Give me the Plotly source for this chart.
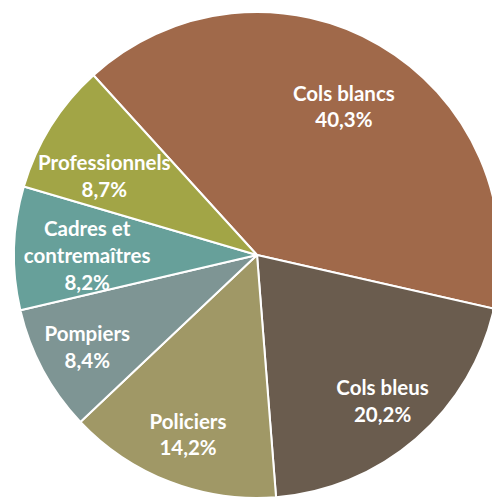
import plotly.graph_objects as go

categories = ["Cols blancs", "Cols bleus", "Policiers", "Pompiers", "Cadres et<br>contremaîtres", "Professionnels"]
values = [40.3, 20.2, 14.2, 8.4, 8.2, 8.7]
value_labels = ["40,3%", "20,2%", "14,2%", "8,4%", "8,2%", "8,7%"]
colors = ["#A0694A", "#6A5C4E", "#A09866", "#7E9594", "#67A09A", "#A2A546"]

# label layers (which slice's label is drawn on which transparent ring)
layer_mid = ["inside", "none", "none", "inside", "none", "none"]
layer_outer = ["none", "inside", "inside", "none", "none", "none"]
layer_inner = ["none", "none", "none", "none", "inside", "none"]
layer_inner_shifted = ["none", "none", "none", "none", "none", "inside"]

START = -42.3
common = dict(
    labels=categories,
    values=values,
    sort=False,
    direction="clockwise",
    hoverinfo="skip",
    showlegend=False,
)
label_style = dict(
    customdata=value_labels,
    texttemplate="%{label}<br>%{customdata}",
    insidetextorientation="horizontal",
    marker=dict(colors=["rgba(0,0,0,0)"] * len(values), line=dict(width=0)),
    textfont=dict(family="Lato", size=20.5, color="white", weight="bold"),
)
inner_domain = dict(x=[0.05, 0.95], y=[0.05, 0.95])

fig = go.Figure()
# the slices
fig.add_trace(go.Pie(
    **common,
    rotation=START,
    textinfo="none",
    marker=dict(colors=colors, line=dict(color="white", width=2)),
))
# transparent label layers
fig.add_trace(go.Pie(**common, **label_style, rotation=START, hole=0.42, textposition=layer_mid))
fig.add_trace(go.Pie(**common, **label_style, rotation=START, hole=0.58, textposition=layer_outer))
fig.add_trace(go.Pie(**common, **label_style, rotation=START, hole=0.3,
                     textposition=layer_inner, domain=inner_domain))
fig.add_trace(go.Pie(**common, **label_style, rotation=START - 4.5, hole=0.3,
                     textposition=layer_inner_shifted, domain=inner_domain))
fig.update_layout(
    width=500,
    height=499,
    margin=dict(l=14, r=0, t=12, b=1),
    paper_bgcolor="white",
    uniformtext=dict(minsize=20.5, mode="show"),
)
fig.write_html(
    "out.html",
    config={"displayModeBar": False},
    post_script="document.body.style.margin='0';document.body.style.overflow='hidden';",
)
